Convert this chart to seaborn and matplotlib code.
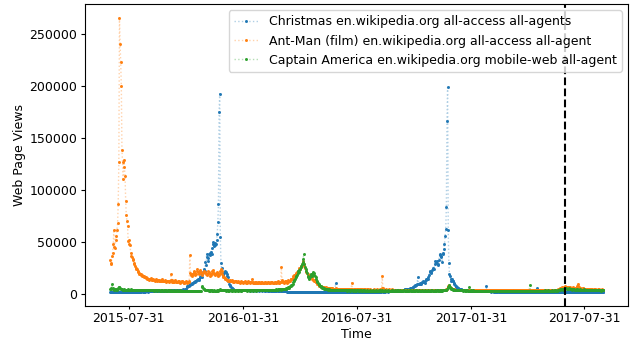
# page views of three wikipedia pages (kaggle web traffic), daily values

import numpy as np
import pandas as pd
import matplotlib
matplotlib.use('Agg')
import matplotlib.pyplot as plt
import matplotlib.dates as mdates
from matplotlib.colors import to_rgba
import seaborn as sns

start_date = '2015-07-01'
split_date = '2017-07-01'

labels = ['Christmas en.wikipedia.org all-access all-agents',
          'Ant-Man (film) en.wikipedia.org all-access all-agent',
          'Captain America en.wikipedia.org mobile-web all-agent']
colors = ['#1f77b4', '#ff7f0e', '#2ca02c']
tick_dates = ['2015-07-31', '2016-01-31', '2016-07-31', '2017-01-31', '2017-07-31']

# views in thousands, one row per month
christmas_k = [
    2.3, 2.2, 2.1, 2.0, 2.2, 2.4, 2.3, 2.2, 2.1, 2.0, 2.1, 2.3, 2.4, 2.3, 2.2, 2.1, 2.0, 2.2, 2.3, 2.4, 2.2, 2.1, 2.0, 2.1, 2.3, 2.5, 2.4, 2.2, 2.1, 2.1, 2.3,
    2.4, 2.3, 2.2, 2.1, 2.2, 2.4, 2.5, 2.4, 2.3, 2.2, 2.2, 2.3, 2.5, 2.6, 2.5, 2.4, 2.3, 2.3, 2.4, 2.6, 2.7, 2.6, 2.5, 2.4, 2.4, 2.5, 2.7, 2.8, 2.7, 2.6, 2.5,
    2.6, 2.7, 2.9, 3.0, 2.9, 2.8, 2.7, 2.8, 3.0, 3.1, 3.0, 2.9, 2.8, 2.9, 3.1, 3.2, 3.1, 3.0, 2.9, 3.0, 3.2, 3.3, 3.2, 3.1, 3.0, 3.1, 3.3, 3.4, 3.3, 3.2,
    3.4, 3.5, 3.6, 3.5, 3.4, 3.6, 3.8, 3.9, 3.8, 3.7, 3.6, 3.8, 4.0, 4.1, 4.0, 3.9, 3.8, 4.0, 4.2, 4.3, 4.2, 4.1, 4.0, 4.2, 4.4, 4.5, 4.4, 4.3, 4.2, 4.5, 4.8,
    7.0, 7.5, 8.0, 8.5, 8.0, 8.8, 9.5, 10.0, 10.5, 9.8, 10.8, 11.5, 12.0, 12.5, 11.8, 12.8, 13.5, 14.0, 14.5, 13.8, 15.0, 16.0, 16.7, 17.5, 16.5, 19.5, 21.0, 22.5, 24.0, 22.0,
    30.5, 28.0, 39.0, 36.0, 32.0, 35.0, 39.0, 38.0, 40.0, 41.0, 39.0, 44.0, 48.0, 50.0, 46.0, 49.5, 47.0, 48.0, 52.0, 58.0, 69.0, 87.0, 175.0, 193.0, 55.0, 30.0, 25.0, 20.0, 19.5, 18.0, 20.0,
    21.0, 22.0, 21.0, 19.0, 17.0, 16.0, 13.0, 10.0, 8.5, 7.5, 6.5, 6.0, 5.5, 5.0, 4.6, 4.3, 4.2, 4.0, 3.9, 3.8, 3.9, 3.7, 3.6, 3.8, 3.7, 3.6, 3.5, 3.7, 3.6, 3.5, 3.6,
    3.5, 3.6, 3.8, 3.7, 3.6, 3.5, 3.7, 3.8, 3.6, 3.5, 3.4, 3.6, 3.7, 3.6, 3.5, 3.4, 3.6, 3.7, 3.5, 3.4, 3.5, 3.7, 3.6, 3.5, 3.4, 3.5, 3.7, 3.6, 3.5,
    3.4, 3.5, 3.6, 3.5, 3.4, 3.3, 3.5, 3.6, 3.5, 3.4, 3.3, 3.4, 3.6, 3.5, 3.4, 3.3, 3.2, 3.4, 3.5, 3.4, 3.3, 3.2, 3.3, 3.5, 3.6, 3.4, 3.3, 3.2, 3.4, 3.5, 3.4,
    3.3, 3.2, 3.1, 3.2, 3.3, 3.1, 3.0, 2.9, 2.7, 2.5, 2.4, 2.3, 2.4, 2.3, 2.2, 2.1, 2.2, 2.3, 2.2, 2.1, 2.0, 2.1, 2.2, 2.3, 2.2, 2.1, 2.0, 2.1, 2.2, 2.1,
    2.0, 2.1, 2.2, 2.1, 2.0, 1.9, 2.0, 2.2, 2.1, 2.0, 1.9, 2.0, 2.1, 2.2, 2.1, 2.0, 1.9, 2.0, 2.1, 2.2, 2.0, 1.9, 1.8, 2.0, 2.1, 2.0, 1.9, 1.8, 1.9, 2.0, 2.1,
    2.0, 1.9, 1.8, 1.9, 2.0, 2.1, 2.0, 1.9, 1.8, 1.9, 2.0, 2.1, 2.0, 1.9, 1.8, 1.9, 2.0, 2.0, 1.9, 1.8, 1.9, 2.0, 2.1, 2.0, 1.9, 1.8, 10.5, 2.0, 2.1, 2.0,
    2.0, 2.1, 2.0, 1.9, 1.8, 1.9, 2.0, 2.1, 2.0, 1.9, 1.8, 1.9, 2.0, 2.1, 2.2, 2.1, 2.0, 1.9, 2.0, 2.1, 2.2, 2.1, 2.0, 1.9, 2.0, 2.1, 2.2, 2.3, 2.2, 2.1, 2.0,
    2.1, 2.2, 2.3, 2.2, 2.1, 2.0, 2.1, 2.2, 2.3, 2.4, 2.3, 2.2, 2.1, 2.2, 2.3, 2.4, 2.3, 2.2, 2.1, 2.2, 2.3, 2.4, 2.5, 2.4, 2.3, 2.2, 2.3, 2.4, 2.5, 2.4, 2.3,
    2.4, 2.5, 2.6, 2.5, 2.4, 2.3, 2.4, 2.5, 2.6, 2.7, 2.6, 2.5, 2.4, 2.5, 2.6, 2.7, 2.8, 2.7, 2.6, 2.5, 2.6, 2.7, 2.8, 2.9, 2.8, 2.7, 2.6, 2.7, 2.8, 2.9,
    2.9, 3.0, 3.1, 3.0, 2.9, 3.1, 3.2, 3.3, 3.4, 3.3, 3.5, 3.7, 3.8, 3.9, 4.2, 4.5, 4.6, 4.8, 4.7, 4.9, 5.0, 5.2, 5.3, 5.0, 5.5, 5.7, 6.0, 6.3, 6.5, 6.8, 7.5,
    8.0, 8.5, 9.0, 8.6, 9.5, 16.0, 10.0, 9.7, 10.0, 10.5, 9.7, 11.0, 11.5, 12.0, 12.8, 12.0, 11.0, 13.0, 14.0, 14.7, 15.0, 14.7, 16.0, 18.0, 22.0, 21.0, 20.0, 21.5, 23.0, 24.0,
    25.0, 24.0, 29.0, 32.0, 30.0, 31.0, 32.0, 29.0, 28.0, 33.0, 38.0, 39.0, 36.0, 37.0, 30.5, 39.0, 40.0, 43.0, 48.5, 56.0, 63.0, 84.0, 167.0, 199.0, 62.0, 29.5, 19.3, 17.5, 15.0, 13.0, 14.5,
    13.0, 12.5, 11.0, 9.7, 8.5, 7.5, 6.8, 6.4, 6.0, 5.5, 5.2, 5.0, 4.8, 4.6, 4.5, 4.4, 4.3, 4.2, 4.0, 3.9, 3.8, 3.7, 3.6, 3.5, 3.6, 3.5, 3.4, 3.3, 3.4, 3.3, 3.2,
    3.2, 3.1, 3.0, 3.1, 3.2, 3.0, 2.9, 3.0, 3.1, 3.0, 2.9, 2.8, 2.9, 3.0, 2.9, 2.8, 2.7, 2.8, 2.9, 2.8, 2.7, 2.6, 2.7, 8.0, 2.8, 2.7, 2.6, 2.7,
    2.6, 2.7, 2.6, 2.5, 2.6, 2.7, 2.6, 2.5, 2.4, 2.5, 2.6, 2.5, 2.4, 2.5, 2.6, 2.5, 2.4, 2.3, 2.4, 2.5, 2.6, 2.5, 2.4, 2.3, 2.4, 2.5, 2.4, 2.3, 2.4, 2.5, 2.4,
    2.3, 2.4, 2.5, 2.4, 2.3, 2.2, 2.3, 2.4, 2.5, 2.4, 2.3, 2.2, 2.3, 2.4, 2.3, 2.2, 2.1, 2.2, 2.3, 2.4, 2.3, 2.2, 2.1, 2.2, 2.3, 2.2, 2.1, 2.2, 2.3, 2.2,
    2.1, 2.2, 2.3, 2.2, 2.1, 2.0, 2.1, 2.2, 2.3, 2.2, 2.1, 2.0, 2.1, 2.2, 2.1, 5.8, 2.1, 2.0, 2.1, 2.2, 2.1, 2.0, 1.9, 2.0, 2.1, 2.2, 2.1, 2.0, 1.9, 2.0, 2.1,
    2.0, 2.1, 2.2, 2.1, 2.0, 1.9, 2.0, 2.1, 2.2, 2.1, 2.0, 1.9, 2.0, 2.1, 2.0, 1.9, 2.0, 2.1, 2.2, 2.1, 2.0, 1.9, 2.0, 2.1, 2.2, 2.1, 2.0, 1.9, 2.0, 2.1,
    2.2, 2.3, 2.2, 2.1, 2.0, 2.1, 2.2, 2.3, 2.2, 2.1, 2.0, 2.1, 2.2, 2.3, 2.2, 2.1, 2.0, 2.1, 2.2, 2.3, 2.4, 2.3, 2.2, 2.1, 2.2, 2.3, 2.4, 2.3, 2.2, 2.1, 2.2,
    2.3, 2.2, 2.1, 2.2, 2.3, 2.4, 2.3, 2.2, 2.1, 2.2, 2.3, 2.4, 2.5, 2.4, 2.3, 2.2, 2.3, 2.4, 2.5, 2.4, 2.3, 2.2, 2.3, 2.4, 2.5, 2.6, 2.5, 2.4, 2.3, 2.4, 2.5,
]

antman_k = [
    33, 30, 29, 37, 40, 48, 62, 45, 44, 52, 56, 62, 68, 87, 127, 266, 241, 223, 200, 139, 127, 111, 129, 122, 114, 90, 76, 70, 66, 51, 52,
    48, 47, 40, 37, 36, 34, 33, 30, 29, 27, 25, 24, 24, 22, 21, 20, 19.3, 19, 18.5, 19, 18, 17.7, 17, 16.5, 17, 16, 16, 15.5, 15, 15.5, 14.5,
    14.5, 14.0, 14.8, 15.5, 14.2, 13.8, 13.5, 14.5, 14.0, 13.5, 13.0, 13.8, 14.5, 13.2, 12.8, 13.5, 14.0, 13.0, 12.5, 12.8, 13.5, 14.2, 13.0, 12.5, 12.2, 13.0, 13.8, 12.5, 12.0, 12.5,
    12.5, 13.0, 12.2, 11.8, 12.5, 14.0, 19.3, 13.5, 12.0, 11.5, 12.0, 12.5, 13.5, 12.2, 11.5, 11.2, 11.8, 12.5, 13.0, 11.8, 11.2, 11.0, 11.5, 12.2, 12.8, 11.5, 11.0, 10.8, 11.2, 12.0, 12.5,
    11.2, 10.8, 11.5, 12.0, 13.0, 37.6, 20.0, 18.0, 19.5, 17.7, 19.0, 21.0, 22.0, 20.0, 18.5, 19.5, 22.5, 24.0, 21.0, 19.5, 20.5, 22.0, 23.0, 21.5, 20.0, 18.5, 20.0, 21.5, 22.5, 21.0,
    21.0, 19.5, 18.0, 19.0, 20.5, 22.0, 21.0, 19.0, 17.7, 18.5, 20.0, 22.0, 23.0, 21.0, 19.5, 18.0, 19.0, 20.5, 21.5, 20.0, 18.5, 17.5, 18.5, 20.0, 22.5, 24.0, 22.0, 19.5, 17.7, 16.5, 16.0,
    15.5, 15.0, 14.5, 14.0, 13.5, 14.0, 13.0, 12.8, 13.5, 12.5, 12.2, 12.8, 13.2, 12.5, 12.0, 11.8, 12.5, 13.0, 12.2, 11.5, 11.2, 12.0, 12.8, 12.0, 11.5, 11.0, 11.5, 12.2, 11.8, 11.2, 11.0,
    11.2, 11.8, 12.5, 11.5, 11.0, 10.8, 11.5, 12.2, 11.8, 11.2, 10.8, 11.2, 12.0, 14.7, 11.5, 11.0, 10.5, 11.0, 11.8, 11.2, 10.8, 10.5, 11.0, 11.8, 11.5, 11.0, 10.5, 10.8, 11.5,
    11.2, 10.8, 10.5, 11.0, 11.8, 11.2, 10.8, 10.5, 11.0, 12.0, 11.5, 10.8, 10.5, 10.8, 11.5, 12.0, 11.2, 10.8, 10.5, 11.0, 11.5, 11.2, 10.8, 10.5, 11.2, 12.2, 11.5, 11.0, 10.8, 11.2, 12.0,
    25.7, 14.0, 12.0, 11.5, 11.0, 12.0, 13.0, 12.5, 12.0, 11.0, 12.0, 13.5, 13.0, 12.5, 13.0, 14.5, 15.0, 14.5, 15.5, 17.0, 18.0, 17.0, 18.5, 20.0, 19.0, 21.0, 22.0, 21.5, 23.0, 25.0,
    24.0, 27.0, 26.0, 28.0, 30.5, 32.0, 29.0, 27.0, 25.0, 22.5, 21.0, 20.0, 19.0, 18.0, 17.5, 16.5, 17.0, 18.5, 17.0, 16.0, 15.0, 14.0, 13.5, 13.0, 12.5, 12.0, 11.5, 10.5, 10.0, 9.5, 8.5,
    8.2, 8.0, 7.5, 7.2, 7.0, 6.8, 7.0, 6.5, 6.2, 6.0, 6.2, 6.5, 6.0, 5.8, 5.6, 5.8, 6.0, 5.5, 5.4, 5.2, 5.5, 5.8, 5.3, 5.1, 5.0, 5.2, 5.5, 5.1, 5.0, 4.9,
    4.8, 5.0, 5.2, 4.9, 4.7, 4.8, 5.1, 4.9, 4.7, 4.6, 4.8, 5.0, 4.8, 4.6, 4.5, 4.7, 5.0, 4.8, 4.6, 4.5, 4.7, 4.9, 11.0, 4.5, 4.4, 4.6, 4.9, 4.7, 4.5, 4.4, 4.6,
    4.5, 4.7, 4.5, 4.4, 4.3, 4.5, 4.8, 4.6, 4.4, 4.3, 4.5, 4.7, 4.5, 4.3, 4.2, 4.4, 4.7, 4.5, 4.3, 4.2, 4.4, 4.6, 4.4, 4.2, 4.1, 4.3, 4.6, 4.4, 4.2, 4.1, 4.3,
    4.5, 4.3, 4.2, 4.1, 4.3, 4.6, 4.4, 4.2, 5.5, 17.7, 6.0, 4.5, 4.3, 4.2, 4.4, 4.6, 4.4, 4.2, 4.1, 4.3, 4.5, 4.3, 4.1, 4.0, 4.2, 4.5, 4.3, 4.1, 4.0, 4.2,
    4.4, 4.2, 4.0, 3.9, 4.1, 4.4, 4.2, 4.0, 3.9, 4.1, 4.3, 4.1, 3.9, 3.8, 4.0, 4.3, 4.1, 3.9, 3.8, 4.0, 4.2, 4.0, 3.8, 3.7, 3.9, 4.2, 4.0, 3.8, 3.7, 3.9, 4.1,
    4.0, 3.9, 3.8, 4.0, 4.2, 4.0, 3.8, 3.7, 3.9, 4.1, 3.9, 3.8, 3.7, 3.9, 4.1, 4.0, 3.8, 3.7, 3.9, 4.2, 4.0, 3.8, 3.7, 3.9, 4.1, 4.0, 3.8, 3.7, 3.9, 4.1,
    4.0, 3.8, 3.7, 3.9, 4.1, 3.9, 3.8, 3.7, 3.9, 4.0, 3.8, 3.7, 3.6, 3.8, 4.0, 3.9, 3.8, 3.7, 3.9, 4.1, 4.2, 4.5, 5.0, 6.5, 8.0, 8.5, 7.5, 6.5, 6.0, 5.5, 5.2,
    5.0, 4.8, 4.6, 4.5, 4.4, 4.3, 4.2, 4.1, 4.0, 4.1, 4.2, 4.0, 3.9, 3.8, 4.0, 4.1, 3.9, 3.8, 3.7, 3.9, 4.0, 3.8, 3.7, 3.6, 3.8, 4.0, 3.8, 3.7, 3.6, 3.8, 3.9,
    3.8, 3.7, 3.6, 3.8, 4.0, 3.8, 3.7, 3.6, 3.8, 3.9, 3.7, 3.6, 3.5, 3.7, 3.9, 3.8, 3.6, 3.5, 3.7, 3.9, 3.7, 3.6, 3.5, 3.7, 3.9, 3.7, 3.6, 3.5,
    3.7, 3.9, 3.8, 3.6, 3.5, 3.7, 3.9, 3.7, 3.6, 3.5, 3.7, 3.9, 3.8, 3.6, 3.5, 3.7, 4.0, 3.8, 3.6, 3.5, 3.7, 3.9, 3.7, 3.6, 3.5, 3.7, 4.0, 3.8, 3.6, 3.5, 3.7,
    3.9, 3.7, 3.6, 3.5, 3.7, 3.9, 3.8, 3.6, 3.5, 3.7, 4.0, 3.8, 3.6, 3.5, 3.7, 3.9, 3.7, 3.6, 3.5, 3.7, 4.0, 3.8, 3.6, 3.5, 3.7, 3.9, 3.7, 3.6, 3.5, 3.7,
    3.9, 3.7, 3.6, 3.8, 4.0, 3.8, 3.7, 3.6, 3.8, 4.1, 3.9, 3.7, 3.6, 3.8, 4.0, 3.8, 3.7, 3.6, 3.8, 4.1, 3.9, 3.7, 3.6, 3.8, 4.0, 3.8, 3.7, 3.6, 3.8, 4.0, 3.9,
    3.8, 3.7, 3.9, 4.1, 3.9, 3.8, 3.7, 3.9, 4.2, 4.0, 3.9, 3.8, 4.0, 4.3, 4.1, 4.0, 3.9, 4.1, 4.4, 4.6, 4.8, 5.0, 5.5, 6.0, 6.5, 6.2, 5.8, 6.0, 6.5, 7.0,
    7.5, 7.0, 6.5, 6.2, 6.0, 6.5, 7.2, 6.8, 6.2, 5.8, 5.5, 5.8, 6.5, 6.2, 5.8, 5.5, 5.3, 5.8, 6.5, 8.0, 9.7, 7.5, 6.5, 6.0, 5.5, 5.2, 5.0, 5.3, 5.8, 5.5, 5.2,
    5.0, 4.8, 4.6, 4.8, 5.2, 4.9, 4.7, 4.5, 4.4, 4.6, 5.0, 4.8, 4.5, 4.4, 4.3, 4.5, 4.8, 4.6, 4.4, 4.3, 4.2, 4.4, 4.7, 4.5, 4.3, 4.2, 4.1, 4.3, 4.6, 4.4, 4.2,
]

capamerica_k = [
    4.5, 5.0, 6.0, 9.7, 5.5, 4.5, 4.3, 4.6, 5.0, 4.7, 4.4, 4.2, 4.5, 5.5, 6.5, 7.0, 5.8, 5.0, 4.7, 4.5, 4.2, 4.0, 4.3, 4.6, 4.4, 4.1, 3.9, 4.2, 4.5, 4.3, 4.0,
    3.9, 4.2, 4.5, 4.3, 4.0, 3.8, 4.1, 4.4, 4.2, 3.9, 3.7, 4.0, 4.3, 4.1, 3.8, 3.6, 3.9, 4.2, 4.0, 3.7, 3.6, 3.8, 4.1, 3.9, 3.7, 3.5, 3.8, 4.0, 3.8, 3.6, 3.5,
    3.7, 4.0, 3.8, 3.6, 3.5, 3.7, 3.9, 3.7, 3.5, 3.4, 3.6, 3.9, 3.7, 3.5, 3.4, 3.6, 3.8, 3.6, 3.4, 3.3, 3.5, 3.8, 3.6, 3.4, 3.3, 3.5, 3.7, 3.5, 3.3, 3.2,
    3.4, 3.7, 3.5, 3.3, 3.2, 3.4, 3.6, 3.4, 3.2, 3.1, 3.3, 3.6, 3.4, 3.2, 3.1, 3.3, 3.5, 3.3, 3.1, 3.0, 3.2, 3.5, 3.3, 3.1, 3.0, 3.2, 3.4, 3.2, 3.0, 2.9, 3.1,
    3.3, 3.1, 3.0, 3.2, 3.4, 3.2, 3.0, 2.9, 3.1, 3.3, 3.1, 3.0, 2.9, 3.1, 3.3, 3.1, 2.9, 2.8, 3.0, 3.2, 3.0, 2.9, 2.8, 3.0, 7.5, 6.5, 5.5, 5.0, 4.5, 4.2,
    4.0, 3.8, 3.6, 3.5, 3.7, 3.6, 3.4, 3.3, 3.5, 3.7, 3.5, 3.3, 3.2, 3.4, 3.6, 3.4, 3.3, 3.2, 3.4, 3.6, 3.5, 3.4, 3.8, 4.2, 4.5, 4.0, 3.8, 3.6, 3.5, 3.7, 3.9,
    3.7, 3.5, 3.4, 3.6, 3.8, 3.6, 3.4, 3.3, 3.5, 3.7, 3.5, 3.4, 3.3, 3.5, 3.8, 3.6, 3.4, 3.3, 3.5, 3.7, 3.5, 3.4, 3.3, 3.5, 3.7, 3.6, 3.4, 3.3, 3.5, 3.8, 3.6,
    3.5, 3.7, 3.9, 3.7, 3.5, 3.4, 3.6, 3.8, 3.6, 3.5, 3.4, 3.6, 3.9, 3.7, 3.5, 3.4, 3.6, 3.8, 3.7, 3.5, 3.4, 3.6, 3.9, 3.7, 3.6, 3.5, 3.7, 4.0, 3.8,
    3.7, 3.9, 4.1, 3.9, 3.8, 3.7, 3.9, 4.2, 4.0, 3.9, 3.8, 4.0, 4.3, 4.1, 4.0, 3.9, 4.1, 4.4, 4.2, 4.1, 4.0, 4.3, 4.6, 4.4, 4.3, 4.2, 4.5, 4.8, 4.6, 4.5, 4.4,
    4.6, 5.0, 4.8, 4.6, 4.5, 4.8, 5.2, 5.5, 5.3, 5.8, 6.4, 6.0, 5.8, 6.5, 7.5, 8.0, 8.5, 9.0, 10.0, 11.5, 12.5, 13.5, 14.5, 16.0, 17.0, 18.5, 20.0, 22.5, 21.0, 23.0,
    24.0, 25.7, 27.0, 29.0, 30.5, 34.0, 38.6, 29.0, 26.0, 24.0, 22.5, 20.0, 17.7, 16.5, 15.5, 14.7, 16.0, 19.5, 18.0, 17.0, 19.0, 21.0, 20.0, 18.5, 17.7, 16.0, 14.5, 13.0, 11.5, 10.5, 9.7,
    8.8, 8.0, 7.5, 7.0, 6.4, 6.0, 5.8, 5.5, 5.2, 5.0, 4.9, 4.7, 4.6, 4.5, 4.4, 4.5, 4.3, 4.2, 4.1, 4.3, 4.2, 4.0, 3.9, 4.1, 4.0, 3.9, 3.8, 4.0, 3.9, 3.8,
    3.7, 3.9, 3.8, 3.6, 3.5, 3.7, 3.9, 3.7, 3.6, 3.5, 3.7, 3.9, 3.7, 3.5, 3.4, 3.6, 3.8, 3.6, 3.5, 3.4, 3.6, 3.8, 3.6, 3.5, 3.4, 3.6, 3.8, 3.6, 3.4, 3.3, 3.5,
    3.7, 3.5, 3.4, 3.3, 3.5, 3.7, 3.5, 3.4, 3.3, 3.5, 3.7, 3.5, 3.3, 3.2, 3.4, 3.6, 3.4, 3.3, 3.2, 3.4, 3.6, 3.4, 3.3, 3.2, 3.4, 3.6, 3.4, 3.3, 3.2, 3.4, 3.6,
    3.4, 3.3, 3.2, 3.4, 3.6, 3.5, 3.3, 3.2, 3.3, 3.5, 3.4, 3.3, 3.1, 3.3, 3.6, 3.4, 3.3, 3.2, 3.4, 3.7, 3.4, 3.2, 3.1, 3.4, 3.6, 3.5, 3.3, 3.2, 3.4, 3.5,
    3.3, 3.2, 3.4, 3.6, 3.5, 3.3, 3.1, 3.3, 3.5, 3.4, 3.3, 3.2, 3.4, 3.7, 3.5, 3.3, 3.2, 3.3, 3.6, 3.4, 3.3, 3.1, 3.4, 3.6, 3.5, 3.3, 3.2, 3.4, 3.6, 3.4, 3.3,
    3.2, 3.4, 3.6, 3.5, 3.3, 3.2, 3.3, 3.6, 3.4, 3.3, 3.1, 3.4, 3.7, 3.4, 3.3, 3.2, 3.4, 3.5, 3.4, 3.3, 3.2, 3.4, 3.6, 3.4, 3.3, 3.1, 3.4, 3.6, 3.5, 3.3,
    3.2, 3.4, 3.5, 3.3, 3.2, 3.4, 3.6, 3.5, 3.3, 3.2, 3.4, 3.6, 3.5, 3.3, 3.4, 3.6, 3.8, 3.7, 3.5, 3.6, 3.8, 4.0, 4.5, 5.5, 7.0, 8.5, 8.0, 7.0, 6.0, 5.2, 4.8,
    4.5, 4.3, 4.1, 4.0, 3.9, 3.8, 3.7, 3.8, 3.9, 3.7, 3.6, 3.5, 3.7, 3.8, 3.6, 3.5, 3.4, 3.6, 3.7, 3.5, 3.4, 3.3, 3.5, 3.6, 3.4, 3.3, 3.2, 7.0, 3.4, 3.5, 3.3,
    3.2, 3.4, 3.5, 3.3, 3.2, 3.1, 3.3, 3.4, 3.2, 3.1, 3.0, 3.2, 3.4, 3.3, 3.1, 3.0, 3.2, 3.4, 3.3, 3.1, 3.0, 3.2, 3.3, 3.2, 3.0, 2.9, 3.1, 3.3,
    3.2, 3.0, 2.9, 3.1, 3.3, 3.2, 3.0, 2.9, 3.1, 3.3, 3.2, 3.0, 2.9, 3.1, 3.3, 3.2, 3.0, 2.9, 3.1, 3.4, 3.2, 3.0, 2.9, 3.1, 3.3, 3.2, 3.0, 2.9, 3.1, 3.3, 3.2,
    3.0, 2.9, 3.1, 3.3, 3.2, 3.0, 2.9, 3.1, 3.4, 3.2, 3.0, 2.9, 3.1, 3.3, 3.2, 3.0, 2.9, 3.1, 3.3, 3.2, 3.0, 2.9, 3.1, 3.3, 3.2, 3.0, 2.9, 3.1, 3.3, 3.2,
    3.0, 2.9, 3.1, 3.3, 8.7, 3.2, 3.0, 2.9, 3.1, 3.3, 3.2, 3.0, 2.9, 3.1, 3.3, 3.2, 3.0, 2.9, 3.1, 3.3, 3.2, 3.0, 2.9, 3.1, 3.3, 3.2, 3.0, 3.1, 3.3, 3.5, 3.4,
    3.2, 3.1, 3.3, 3.5, 3.4, 3.2, 3.1, 3.3, 3.5, 3.4, 3.2, 3.1, 3.3, 3.6, 3.5, 3.3, 3.2, 3.4, 3.7, 3.6, 3.8, 4.0, 4.5, 5.0, 4.8, 4.5, 4.3, 4.6, 5.0, 5.5,
    6.0, 5.5, 5.0, 4.8, 4.6, 5.0, 5.5, 5.2, 4.8, 4.5, 4.3, 4.6, 5.0, 4.8, 4.5, 4.3, 4.1, 4.4, 4.8, 4.6, 4.4, 4.2, 4.0, 4.3, 4.6, 4.4, 4.2, 4.0, 3.9, 4.2, 4.5,
    4.3, 4.1, 3.9, 3.8, 4.1, 4.4, 4.2, 4.0, 3.8, 3.7, 4.0, 4.3, 4.1, 3.9, 3.7, 3.6, 3.9, 4.2, 4.0, 3.8, 3.6, 3.5, 3.8, 4.1, 3.9, 3.7, 3.5, 3.4, 3.7, 4.0, 3.8,
]

plt.rcParams['font.size'] = 9

fig, ax = plt.subplots(figsize=(6.33, 3.43), dpi=100)

for name, vals, col in zip(labels, [christmas_k, antman_k, capamerica_k], colors):
    df = pd.DataFrame({'date': pd.date_range(start_date, periods=len(vals), freq='D'),
                       'views': np.array(vals) * 1000})
    sns.lineplot(data=df, x='date', y='views', ax=ax, estimator=None, label=name,
                 color=col, linestyle=':', linewidth=1, marker='.', markersize=3,
                 markeredgewidth=0.6)

# faint dotted line, solid markers
for line, col in zip(ax.lines, colors):
    line.set_color(to_rgba(col, 0.35))
    line.set_markerfacecolor(col)
    line.set_markeredgecolor(col)

ax.axvline(pd.Timestamp(split_date), color='black', linestyle='--', linewidth=1.5)

ax.set_xticks(pd.to_datetime(tick_dates))
ax.xaxis.set_major_formatter(mdates.DateFormatter('%Y-%m-%d'))
ax.tick_params(axis='x', length=2.5, pad=1.5)
ax.tick_params(axis='y', length=3, pad=3)
ax.set_xlabel('Time')
ax.set_ylabel('Web Page Views')
ax.xaxis.set_label_coords(0.5, -0.072)
ax.yaxis.set_label_coords(-0.109, 0.5)
ax.legend(loc='upper right')

fig.subplots_adjust(left=0.135, right=0.992, top=0.988, bottom=0.108)
fig.savefig('out.png', dpi=100)
